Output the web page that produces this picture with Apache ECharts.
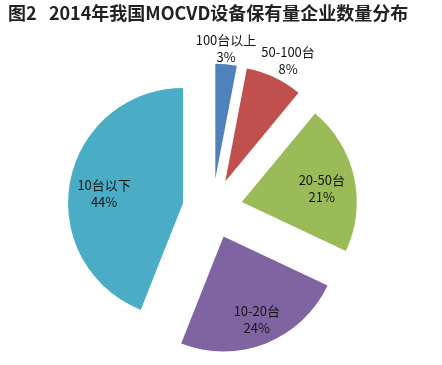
<!DOCTYPE html>
<html>
<head>
<meta charset="utf-8">
<script src="https://cdn.jsdelivr.net/npm/echarts@6/dist/echarts.min.js"></script>
<style>
html,body{margin:0;padding:0;background:#fff;}
#chart{width:442px;height:365px;}
</style>
</head>
<body>
<div id="chart"></div>
<script>
// ---- data ----
const titleText = '图2   2014年我国MOCVD设备保有量企业数量分布';
const categories = ['100台以上', '50-100台', '20-50台', '10-20台', '10台以下'];
const values = [3, 8, 21, 24, 44];
// ---- styles ----
const colors = ['#4F81BD', '#C0504D', '#9BBB59', '#8064A2', '#4BACC6'];
const labelShift = [[5, -70], [37, -66], [21, 0], [11, 26.5], [-19.5, 2]];

const chart = echarts.init(document.getElementById('chart'), null, {renderer: 'canvas'});
chart.setOption({
  backgroundColor: '#fff',
  animation: false,
  title: {
    text: titleText,
    left: 8,
    top: 3,
    padding: 0,
    textStyle: {fontFamily: 'Noto Sans CJK SC', fontSize: 18, lineHeight: 20, fontWeight: 'bold', color: '#222'}
  },
  series: [{
    type: 'pie',
    center: [212.5, 208.6],
    radius: [0, 115],
    startAngle: 90,
    clockwise: true,
    selectedMode: 'multiple',
    selectedOffset: 30,
    avoidLabelOverlap: false,
    emphasis: {disabled: true},
    label: {
      show: true,
      position: 'inside',
      formatter: '{b}\n{d}%',
      fontFamily: 'Noto Sans CJK SC',
      fontSize: 13,
      lineHeight: 17,
      color: '#141414'
    },
    labelLine: {show: false},
    labelLayout: function (params) {
      const s = labelShift[params.dataIndex];
      return {dx: s[0], dy: s[1]};
    },
    data: categories.map((c, i) => ({
      name: c,
      value: values[i],
      selected: true,
      itemStyle: {color: colors[i]}
    }))
  }]
});
</script>
</body>
</html>
